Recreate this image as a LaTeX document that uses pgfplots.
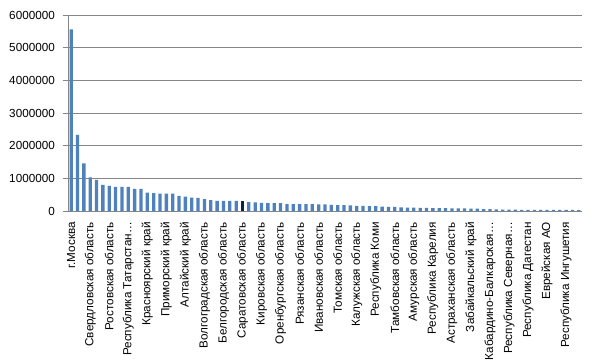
\documentclass[border=0pt]{standalone}
\usepackage{fontspec}
\setmainfont{Liberation Sans}
\usepackage{pgfplots}
\pgfplotsset{compat=1.18}
\definecolor{barblue}{HTML}{4F81BD}
\definecolor{bardark}{HTML}{0F2147}
\definecolor{gridgray}{HTML}{868686}
\begin{document}
\begin{tikzpicture}
\useasboundingbox (-68bp,-149bp) rectangle (529bp,211bp);
\begin{axis}[
  at={(0,0)}, anchor=south west,
  scale only axis, width=514bp, height=196bp,
  xmin=-0.5, xmax=80.5, ymin=0, ymax=6000000,
  axis x line*=bottom, axis y line*=left,
  axis line style={gridgray, line width=0.8bp, -},
  ytick={0,1000000,2000000,3000000,4000000,5000000,6000000},
  scaled y ticks=false,
  yticklabel style={/pgf/number format/fixed, /pgf/number format/precision=0, /pgf/number format/1000 sep={}, font=\fontsize{11.7bp}{14bp}\selectfont, inner sep=0pt},
  /pgf/number format/assume math mode=true,
  ymajorgrids, major grid style={gridgray, line width=0.8bp},
  ytick style={gridgray, line width=0.8bp},
  major tick length=5bp, minor tick length=5bp,
  tick align=outside,
  yticklabel shift=8bp,
  xtick={0,3,...,78},
  xticklabels={г.Москва, Свердловская область, Ростовская область, Республика Татарстан…, Красноярский край, Приморский край, Алтайский край, Волгоградская область, Белгородская область, Саратовская область, Кировская область, Оренбургская область, Рязанская область, Ивановская область, Томская область, Калужская область, Республика Коми, Тамбовская область, Амурская область, Республика Карелия, Астраханская область, Забайкальский край, Кабардино-Балкарская…, Республика Северная…, Республика Дагестан, Еврейская АО, Республика Ингушетия},
  xtick style={draw=none},
  minor xtick={-0.5,0.5,...,80.5},
  minor tick style={gridgray, line width=0.8bp},
  xticklabel style={rotate=90, anchor=east, inner sep=0pt, font=\fontsize{11.7bp}{14bp}\selectfont},
  xticklabel shift=6bp,
  clip=false,
]
\addplot[ybar, bar width=0.52, bar shift=0pt, fill=barblue, draw=none] coordinates {
(0,5560000) (1,2330000) (2,1460000) (3,1030000) (4,950000) (5,800000) (6,770000) (7,740000) (8,740000) (9,740000)
(10,680000) (11,680000) (12,560000) (13,550000) (14,530000) (15,530000) (16,530000) (17,460000) (18,440000) (19,410000)
(20,400000) (21,360000) (22,330000) (23,310000) (24,310000) (25,310000) (26,310000) (28,270000) (29,265000)
(30,245000) (31,240000) (32,240000) (33,240000) (34,210000) (35,210000) (36,210000) (37,210000) (38,210000) (39,205000)
(40,200000) (41,185000) (42,180000) (43,180000) (44,175000) (45,155000) (46,155000) (47,150000) (48,150000) (49,135000)
(50,130000) (51,125000) (52,110000) (53,105000) (54,100000) (55,95000) (56,92000) (57,90000) (58,88000) (59,85000)
(60,82000) (61,80000) (62,78000) (63,75000) (64,70000) (65,60000) (66,55000) (67,50000) (68,42000) (69,40000)
(70,40000) (71,38000) (72,38000) (73,36000) (74,35000) (75,35000) (76,34000) (77,33000) (78,32000) (79,31000) (80,30000)
};
\addplot[ybar, bar width=0.52, bar shift=0pt, fill=bardark, draw=none] coordinates {(27,310000)};
\end{axis}
\end{tikzpicture}
\end{document}
